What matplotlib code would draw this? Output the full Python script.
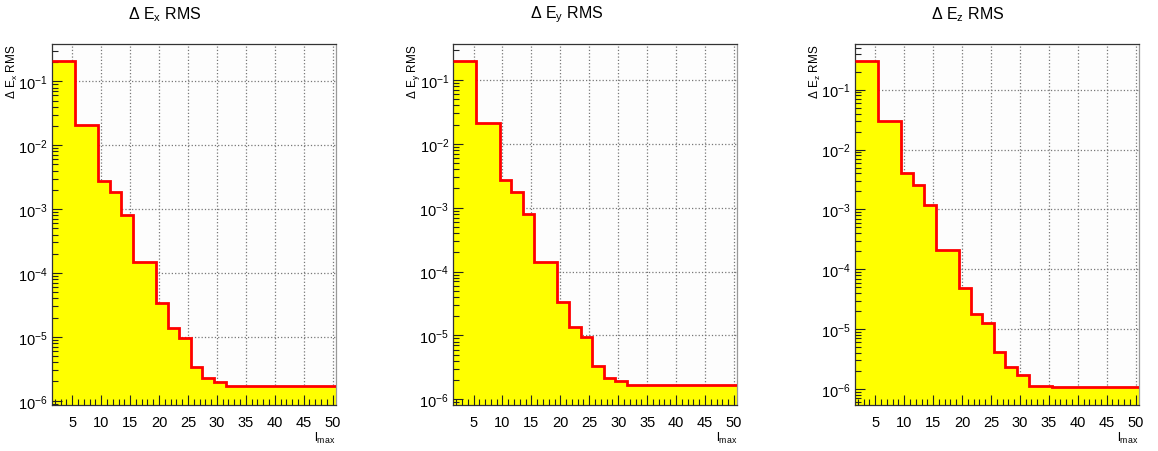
#Recreate the three Delta E RMS histograms vs lmax

#import libraries
import numpy as np
import matplotlib
matplotlib.use('Agg')
import matplotlib.pyplot as plt
from matplotlib.ticker import LogLocator, LogFormatterSciNotation, MultipleLocator, NullFormatter

plt.rcParams['font.family'] = ['Liberation Sans', 'DejaVu Sans']
plt.rcParams['mathtext.default'] = 'regular'

#bin edges in lmax (shared by all three histograms)
bin_edges = [1.5, 5.5, 9.5, 11.5, 13.5, 15.5, 19.5, 21.5, 23.5, 25.5, 27.5, 29.5, 31.5, 35.5, 50.5]

#RMS values per bin
rms_ex = [0.206, 0.0209, 2.78e-3, 1.83e-3, 8.1e-4, 1.5e-4, 3.4e-5, 1.40e-5, 9.5e-6,
          3.37e-6, 2.27e-6, 1.99e-6, 1.72e-6, 1.72e-6]
rms_ey = [0.196, 0.0209, 2.71e-3, 1.78e-3, 7.85e-4, 1.42e-4, 3.4e-5, 1.36e-5, 9.3e-6,
          3.3e-6, 2.16e-6, 1.91e-6, 1.66e-6, 1.66e-6]
rms_ez = [0.301, 0.0303, 4.1e-3, 2.6e-3, 1.2e-3, 2.1e-4, 4.8e-5, 1.78e-5, 1.26e-5,
          4.2e-6, 2.33e-6, 1.73e-6, 1.11e-6, 1.08e-6]

#components and y ranges of each pad
components = ['x', 'y', 'z']
y_ranges = [(8.57e-7, 0.384), (8.15e-7, 0.366), (5.4e-7, 0.58)]
all_rms = [rms_ex, rms_ey, rms_ez]

fig = plt.figure(figsize=(11.58, 4.52), dpi=100)
W, H = 1158.0, 452.0
axes_left = [52, 453.3, 855]

for i, comp in enumerate(components):
    left = axes_left[i]
    ax = fig.add_axes([left / W, (H - 406) / H, 283.5 / W, 361 / H])
    ymin, ymax = y_ranges[i]
    ax.set_yscale('log')
    ax.set_xlim(bin_edges[0], bin_edges[-1])
    ax.set_ylim(ymin, ymax)
    ax.set_facecolor('#fdfdfd')
    ax.set_axisbelow(False)  # ticks drawn over the yellow fill

    #filled histogram and red outline
    ax.stairs(all_rms[i], bin_edges, fill=True, baseline=ymin, color='#ffff00', zorder=2)
    ax.stairs(all_rms[i], bin_edges, baseline=None, color='#ff0000', linewidth=2, zorder=3)

    #ticks, ROOT style
    ax.xaxis.set_major_locator(MultipleLocator(5))
    ax.xaxis.set_minor_locator(MultipleLocator(1))
    ax.yaxis.set_major_locator(LogLocator(base=10, numticks=20))
    major_y = [t for t in ax.get_yticks() if ymin <= t <= ymax]
    ax.set_yticks(major_y)
    ax.yaxis.set_major_formatter(LogFormatterSciNotation())
    ax.yaxis.set_minor_locator(LogLocator(base=10, subs=np.arange(2, 10), numticks=20))
    ax.yaxis.set_minor_formatter(NullFormatter())
    ax.set_ylim(ymin, ymax)
    ax.tick_params(which='both', direction='in', top=False, right=False, labelsize=10.5, color='#222222')
    ax.tick_params(which='major', length=7, width=0.8)
    ax.tick_params(which='minor', length=4, width=0.8)
    ax.tick_params(axis='x', pad=7)
    ax.tick_params(axis='y', pad=3)

    #dotted grid behind the fill
    for xt in ax.get_xticks():
        if bin_edges[0] < xt < bin_edges[-1]:
            ax.axvline(xt, linestyle=':', color='#777777', linewidth=0.9, zorder=1)
    for yt in major_y:
        ax.axhline(yt, linestyle=':', color='#777777', linewidth=0.9, zorder=1)
    for sp in ax.spines.values():
        sp.set_linewidth(0.9)
        sp.set_color('#333333')
    ax.spines['right'].set_color('#999999')

    #titles and axis labels
    fig.text((left + 113) / W, 1 - 15 / H, '\u0394 $E_{%s}$ RMS' % comp,
             ha='center', va='center', fontsize=11.5)
    fig.text((left - 40) / W, 1 - 45 / H, '\u0394 $E_{%s}$ RMS' % comp,
             ha='center', va='top', rotation=90, fontsize=8.5)
    fig.text((left + 273) / W, 1 - 438 / H, '$l_{max}$', ha='center', va='center', fontsize=9)

plt.savefig('out.png', dpi=100)
